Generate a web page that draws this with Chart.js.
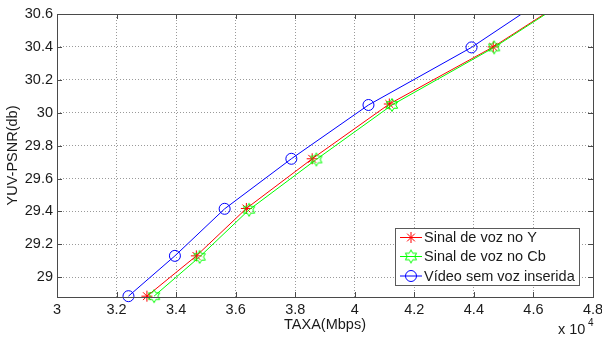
<!DOCTYPE html>
<html>
<head>
<meta charset="utf-8">
<script src="https://cdn.jsdelivr.net/npm/chart.js@4.4.0/dist/chart.umd.min.js"></script>
<style>
    html, body { margin: 0; padding: 0; background: #fff; }
    #wrap { width: 602px; height: 338px; }
</style>
</head>
<body>
<div id="wrap"><canvas id="chart" width="602" height="338"></canvas></div>
<script>
// series (taxa in bps, plotted as x 10^4)
const seriesNames = ["Sinal de voz no Y", "Sinal de voz no Cb", "Vídeo sem voz inserida"]
const taxaY = [33020, 34680, 36360, 38570, 41160, 44650, 48200]
const psnrY = [28.885, 29.13, 29.418, 29.72, 30.053, 30.40, 30.813]
const taxaCb = [33260, 34790, 36450, 38710, 41250, 44680, 48300]
const psnrCb = [28.885, 29.124, 29.41, 29.716, 30.047, 30.397, 30.82]
const taxaVideo = [32400, 33960, 35630, 37870, 40460, 43920, 47400]
const psnrVideo = [28.885, 29.13, 29.416, 29.72, 30.047, 30.397, 30.817]

const xTitle = "TAXA(Mbps)"
const yTitle = "YUV-PSNR(db)"

const FONT = "'Liberation Sans', Arial, sans-serif"
const TEXT = "#1a1a1a"
const FRAME = "#4a4a4a"

const toPoints = (xs, ys) => xs.map((x, i) => ({ x, y: ys[i] }))

const hexagram = (color, r) => {
    const size = Math.ceil(r * 2 + 3)
    const c = document.createElement("canvas")
    c.width = size
    c.height = size
    const ctx = c.getContext("2d")
    const cx = size / 2
    const cy = size / 2
    ctx.beginPath()
    for (let i = 0; i < 12; i++) {
        const a = -Math.PI / 2 + (i * Math.PI) / 6
        const rr = i % 2 === 0 ? r : r / Math.sqrt(3)
        const px = cx + rr * Math.cos(a)
        const py = cy + rr * Math.sin(a)
        if (i === 0) ctx.moveTo(px, py)
        else ctx.lineTo(px, py)
    }
    ctx.closePath()
    ctx.strokeStyle = color
    ctx.lineWidth = 1
    ctx.stroke()
    return c
}

const hexGreen = hexagram("#00ff00", 6.5)

const drawStar = (ctx, x, y, r, color) => {
    ctx.save()
    ctx.strokeStyle = color
    ctx.lineWidth = 1
    ctx.beginPath()
    ctx.moveTo(x, y - r); ctx.lineTo(x, y + r)
    ctx.moveTo(x - r, y); ctx.lineTo(x + r, y)
    const d = r * Math.SQRT1_2
    ctx.moveTo(x - d, y - d); ctx.lineTo(x + d, y + d)
    ctx.moveTo(x - d, y + d); ctx.lineTo(x + d, y - d)
    ctx.stroke()
    ctx.restore()
}

const matlabFrame = {
    id: "matlabFrame",
    beforeDraw(chart) {
        const { ctx } = chart
        ctx.save()
        ctx.fillStyle = "#fff"
        ctx.fillRect(0, 0, chart.width, chart.height)
        ctx.restore()
    },
    afterDatasetsDraw(chart) {
        const { ctx, chartArea: a, scales } = chart
        ctx.save()
        ctx.strokeStyle = FRAME
        ctx.lineWidth = 1
        ctx.strokeRect(Math.round(a.left) + 0.5, Math.round(a.top) + 0.5,
            Math.round(a.right - a.left), Math.round(a.bottom - a.top))
        const tl = 5
        ctx.beginPath()
        scales.x.ticks.forEach((t) => {
            const px = Math.round(scales.x.getPixelForValue(t.value)) + 0.5
            ctx.moveTo(px, a.bottom); ctx.lineTo(px, a.bottom - tl)
            ctx.moveTo(px, a.top); ctx.lineTo(px, a.top + tl)
        })
        scales.y.ticks.forEach((t) => {
            const py = Math.round(scales.y.getPixelForValue(t.value)) + 0.5
            ctx.moveTo(a.left, py); ctx.lineTo(a.left + tl, py)
            ctx.moveTo(a.right, py); ctx.lineTo(a.right - tl, py)
        })
        ctx.stroke()
        ctx.restore()
    },
    afterDraw(chart) {
        const { ctx } = chart
        ctx.save()
        // x 10^4 multiplier
        ctx.fillStyle = TEXT
        ctx.textBaseline = "alphabetic"
        ctx.textAlign = "left"
        ctx.font = "14.5px " + FONT
        ctx.fillText("x 10", 558, 334)
        ctx.font = "10px " + FONT
        ctx.fillText("4", 588, 326)

        // legend box
        const box = { left: 395.5, top: 228.5, right: 579.5, bottom: 285.5 }
        ctx.fillStyle = "#fff"
        ctx.fillRect(box.left, box.top, box.right - box.left, box.bottom - box.top)
        ctx.strokeStyle = "#5a5a5a"
        ctx.lineWidth = 1
        ctx.strokeRect(box.left, box.top, box.right - box.left, box.bottom - box.top)

        const colors = ["#ff0000", "#00ff00", "#0000ff"]
        const rows = [237.5, 256.5, 276]
        ctx.font = "14.5px " + FONT
        ctx.textBaseline = "middle"
        seriesNames.forEach((name, i) => {
            const y = rows[i]
            ctx.strokeStyle = colors[i]
            ctx.lineWidth = 1
            ctx.beginPath()
            ctx.moveTo(400, y)
            ctx.lineTo(422, y)
            ctx.stroke()
            const mx = 411
            if (i === 0) {
                drawStar(ctx, mx, y, 5.5, colors[i])
            } else if (i === 1) {
                ctx.drawImage(hexGreen, mx - hexGreen.width / 2, y - hexGreen.height / 2)
            } else {
                ctx.beginPath()
                ctx.arc(mx, y, 5.5, 0, Math.PI * 2)
                ctx.stroke()
            }
            ctx.fillStyle = TEXT
            ctx.fillText(name, 424, y + 0.5)
        })
        ctx.restore()
    },
}

const lineDataset = (label, xs, ys, color, pointStyle, radius, order) => ({
    label,
    data: toPoints(xs, ys),
    borderColor: color,
    backgroundColor: "rgba(0,0,0,0)",
    borderWidth: 1,
    pointStyle,
    pointRadius: radius,
    pointBorderWidth: 1,
    pointBorderColor: color,
    pointBackgroundColor: "rgba(0,0,0,0)",
    tension: 0,
    order,
    clip: { left: 0, right: 0, top: 0, bottom: 10 },
})

new Chart(document.getElementById("chart"), {
    type: "line",
    data: {
        datasets: [
            lineDataset(seriesNames[0], taxaY, psnrY, "#ff0000", "star", 5.5, 3),
            lineDataset(seriesNames[1], taxaCb, psnrCb, "#00ff00", hexGreen, 6.5, 2),
            lineDataset(seriesNames[2], taxaVideo, psnrVideo, "#0000ff", "circle", 5.5, 1),
        ],
    },
    options: {
        responsive: false,
        animation: false,
        devicePixelRatio: 1,
        layout: {
            padding: { top: 14, right: 9, left: 0, bottom: 0 },
        },
        plugins: {
            legend: { display: false },
            tooltip: { enabled: false },
            title: { display: false },
        },
        scales: {
            x: {
                type: "linear",
                min: 30000,
                max: 48000,
                afterFit: (scale) => {
                    scale.height = 41
                    scale.paddingLeft = 0
                    scale.paddingRight = 0
                },
                ticks: {
                    stepSize: 2000,
                    padding: 4,
                    color: TEXT,
                    font: { family: FONT, size: 14.5 },
                    maxRotation: 0,
                    autoSkip: false,
                    callback: (v) => String(Math.round(v / 1000) / 10),
                },
                grid: {
                    color: "#9a9a9a",
                    drawTicks: false,
                },
                border: { display: false, dash: [1, 2] },
                title: {
                    display: true,
                    text: xTitle,
                    color: TEXT,
                    font: { family: FONT, size: 14.5 },
                    padding: { top: 0, bottom: 4 },
                },
            },
            y: {
                type: "linear",
                min: 28.88,
                max: 30.6,
                afterFit: (scale) => {
                    scale.width = 57
                    scale.paddingTop = 0
                    scale.paddingBottom = 0
                },
                ticks: {
                    stepSize: 0.2,
                    includeBounds: false,
                    padding: 4,
                    color: TEXT,
                    font: { family: FONT, size: 14.5 },
                    autoSkip: false,
                    callback: (v) => String(Math.round(v * 10) / 10),
                },
                grid: {
                    color: "#9a9a9a",
                    drawTicks: false,
                },
                border: { display: false, dash: [1, 2] },
                title: {
                    display: true,
                    text: yTitle,
                    color: TEXT,
                    font: { family: FONT, size: 14.5 },
                    padding: { top: 4, bottom: 0 },
                },
            },
        },
    },
    plugins: [matlabFrame],
})
</script>
</body>
</html>
